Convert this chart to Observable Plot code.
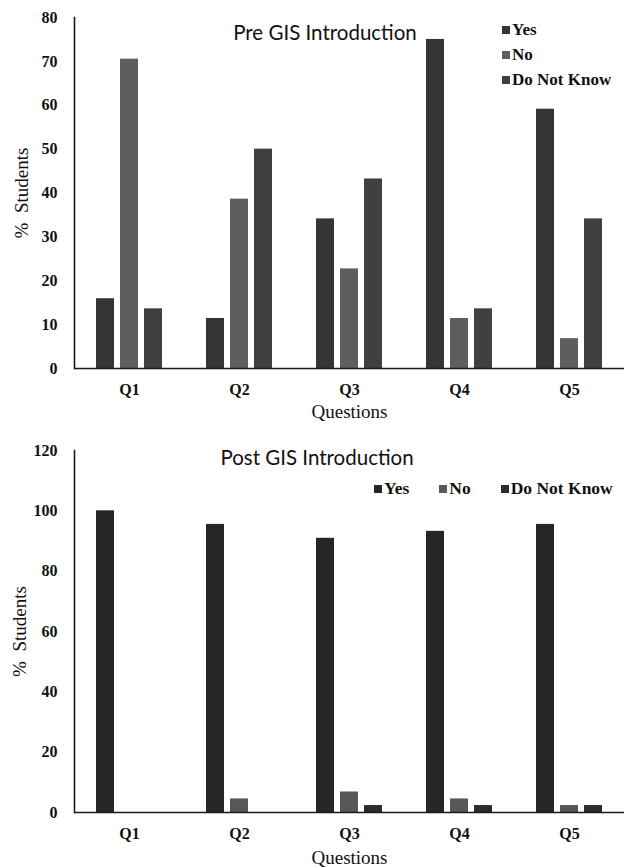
<!DOCTYPE html>
<html><head><meta charset="utf-8">
<script src="https://cdn.jsdelivr.net/npm/d3@7"></script>
<script src="https://cdn.jsdelivr.net/npm/@observablehq/plot@0.6"></script>
<style>
body{margin:0;background:#fff;overflow:hidden;}
.panel{position:relative;width:625px;}
.panel > svg{display:block;}
.title{position:absolute;font-family:Lato,"Open Sans",sans-serif;font-size:20.5px;color:#111;transform:translate(-50%,-50%);white-space:nowrap;}
.lg{position:absolute;}
.lg svg{margin-right:2px !important;}
.lg1 [class$="-swatch"]{height:25px;padding-bottom:0 !important;}
.lg2{width:251px;white-space:nowrap;}
.lg2 > div{flex-wrap:nowrap !important;}
.lg2 [class$="-swatch"]{margin-right:30px !important;}
.lg2 [class$="-swatch"]:last-child{margin-right:0 !important;}
</style></head><body><div id="root"></div>
<script>
const questions = ["Q1","Q2","Q3","Q4","Q5"];
const series = ["Yes","No","Do Not Know"];
// Pre GIS introduction (% students)
const preYes = [15.9, 11.4, 34.1, 75.0, 59.1];
const preNo  = [70.5, 38.6, 22.7, 11.4, 6.8];
const preDNK = [13.6, 50.0, 43.2, 13.6, 34.1];
// Post GIS introduction (% students)
const postYes = [100, 95.5, 90.9, 93.2, 95.5];
const postNo  = [0, 4.5, 6.8, 4.5, 2.3];
const postDNK = [0, 0, 2.3, 2.3, 2.3];
const preTicks = [0,10,20,30,40,50,60,70,80];
const postTicks = [0,20,40,60,80,100,120];
const preColors = ["#353535","#5e5e5e","#404040"];
const postColors = ["#262626","#585858","#2c2c2c"];

function tidy(cols){
  return questions.flatMap((q,i)=>series.map((s,j)=>({q, s, v: cols[j][i]})));
}

function chart({rows, ymax, ticks, colors, height, marginTop, marginBottom, ylabOffset, xlabOffset}){
  return Plot.plot({
    width:625, height, marginLeft:72, marginRight:0, marginTop, marginBottom,
    style:{background:"transparent", fontFamily:"'Liberation Serif', 'Times New Roman', serif", color:"#111", overflow:"visible"},
    fx:{domain:questions, padding:0, label:null, axis:null},
    x:{domain:series, paddingInner:0.23, paddingOuter:0.854, axis:null},
    y:{domain:[0,ymax], label:null, axis:null},
    color:{domain:series, range:colors},
    marks:[
      Plot.barY(rows,{fx:"q", x:"s", y:"v", fill:"s"}),
      Plot.ruleY([0],{stroke:"#1a1a1a", strokeWidth:1.6}),
      Plot.frame({anchor:"left", facetAnchor:"left", stroke:"#1a1a1a", strokeWidth:1.6}),
      Plot.axisY({ticks, tickSize:0, tickPadding:17, fontSize:16, fontWeight:"bold", label:null}),
      Plot.axisY({ticks:[], tickSize:0, label:"%  Students", labelArrow:"none", labelAnchor:"center", labelOffset:ylabOffset, fontSize:19}),
      Plot.axisFx({anchor:"bottom", tickSize:0, tickPadding:15, fontSize:16, fontWeight:"bold", label:null}),
      Plot.axisFx({anchor:"bottom", ticks:[], tickSize:0, label:"Questions", labelArrow:"none", labelAnchor:"center", labelOffset:xlabOffset, fontSize:19})
    ]
  });
}

function legend(colors, columns, size){
  return Plot.legend({
    color:{domain:series, range:colors}, swatchSize:8, columns,
    style:{fontFamily:"'Liberation Serif', 'Times New Roman', serif", fontWeight:"bold", fontSize:size, color:"#111", margin:"0"}
  });
}

const root = document.getElementById("root");

// Top panel
const p1 = document.createElement("div"); p1.className="panel";
p1.appendChild(chart({rows:tidy([preYes,preNo,preDNK]), ymax:80, ticks:preTicks, colors:preColors,
  height:420, marginTop:17, marginBottom:52, ylabOffset:60, xlabOffset:49}));
const t1 = document.createElement("div"); t1.className="title"; t1.textContent="Pre GIS Introduction";
t1.style.left="325px"; t1.style.top="32px"; p1.appendChild(t1);
const l1 = document.createElement("div"); l1.className="lg lg1"; l1.style.left="502px"; l1.style.top="17px";
l1.appendChild(legend(preColors, 1, "17px")); p1.appendChild(l1);
root.appendChild(p1);

// Bottom panel
const p2 = document.createElement("div"); p2.className="panel";
p2.appendChild(chart({rows:tidy([postYes,postNo,postDNK]), ymax:120, ticks:postTicks, colors:postColors,
  height:448, marginTop:30, marginBottom:56, ylabOffset:62, xlabOffset:51}));
const t2 = document.createElement("div"); t2.className="title"; t2.textContent="Post GIS Introduction";
t2.style.left="317px"; t2.style.top="37px"; p2.appendChild(t2);
const l2 = document.createElement("div"); l2.className="lg lg2"; l2.style.left="374px"; l2.style.top="52px";
l2.appendChild(legend(postColors, undefined, "17.5px")); p2.appendChild(l2);
root.appendChild(p2);
</script>
</body></html>
